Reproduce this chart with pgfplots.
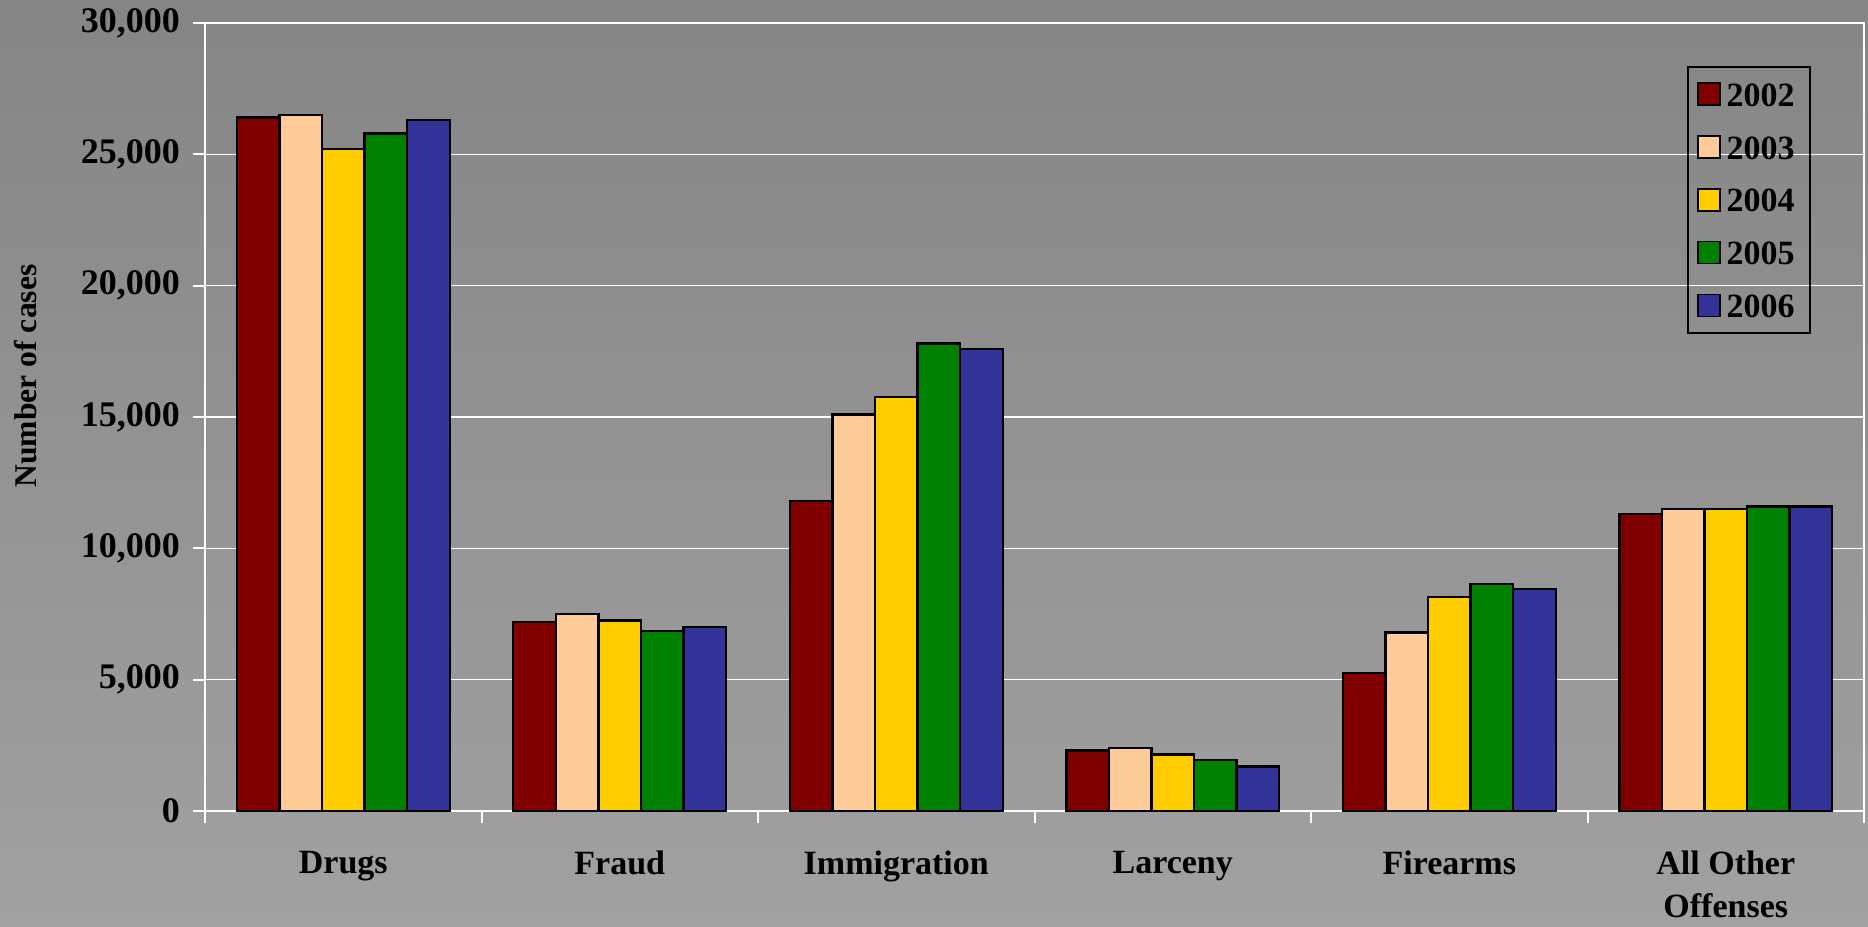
\documentclass[border=0pt]{standalone}
\usepackage{fontspec}
\setmainfont{Liberation Serif}
\usepackage{pgfplots}
\pgfplotsset{compat=1.18}
\definecolor{c2002}{HTML}{800000}
\definecolor{c2003}{HTML}{FFCC99}
\definecolor{c2004}{HTML}{FFCC00}
\definecolor{c2005}{HTML}{008000}
\definecolor{c2006}{HTML}{333399}
\definecolor{bgtop}{HTML}{858585}
\definecolor{bgbot}{HTML}{A1A1A1}
\newcommand{\lblfont}{\fontsize{17}{21.5}\selectfont\bfseries}
\newcommand{\ytfont}{\fontsize{18}{22}\selectfont\bfseries}
\begin{document}
\begin{tikzpicture}
\useasboundingbox (0,0) rectangle (934pt,463pt);
\shade[top color=bgtop, bottom color=bgbot] (0,0) rectangle (934pt,463pt);
\begin{axis}[
  at={(102.5pt,57.5pt)}, anchor=south west,
  scale only axis, width=829.5pt, height=394pt,
  ybar=0pt, bar width=0.154,
  xmin=-0.5, xmax=5.5, ymin=0, ymax=30000,
  xtick={-0.5,0.5,...,5.5}, xticklabels={},
  extra x ticks={0,1,2,3,4,5},
  extra x tick labels={Drugs,Fraud,Immigration,Larceny,Firearms,{All Other\\Offenses}},
  extra x tick style={major tick length=0pt, grid=none},
  ytick={0,5000,...,30000},
  tick pos=left,
  ymajorgrids, grid style={white, line width=0.8pt},
  axis line style={white, line width=1pt},
  tick style={white, line width=1pt},
  tick align=outside, major tick length=6pt,
  x tick label style={font=\lblfont, align=center, anchor=north, yshift=-16.5pt},
  y tick label style={font=\ytfont, xshift=-3pt},
  /pgf/number format/assume math mode=true,
  /pgf/number format/1000 sep={,},
  scaled y ticks=false,
  ylabel={Number of cases},
  ylabel style={font=\fontsize{15.8}{18}\selectfont\bfseries, at={(axis description cs:-0.108,0.552)}, anchor=center},
  every axis plot/.append style={draw=black, line width=1.2pt},
  legend style={at={(0.968,0.9454)}, anchor=north east, draw=black, line width=1pt, fill=none,
    font=\lblfont, inner sep=4.6pt, row sep=8.4pt,
    nodes={text height=12pt, text depth=0pt, inner sep=3pt}},
  legend cell align=left,
  legend image code/.code={\draw[#1, line width=0.8pt] (0pt,-5.5pt) rectangle (11pt,5.5pt);},
]
\addplot[fill=c2002] coordinates {(0,26400) (1,7200) (2,11800) (3,2300) (4,5250) (5,11300)};
\addplot[fill=c2003] coordinates {(0,26500) (1,7500) (2,15100) (3,2400) (4,6800) (5,11500)};
\addplot[fill=c2004] coordinates {(0,25200) (1,7250) (2,15750) (3,2150) (4,8150) (5,11500)};
\addplot[fill=c2005] coordinates {(0,25800) (1,6850) (2,17800) (3,1950) (4,8650) (5,11600)};
\addplot[fill=c2006] coordinates {(0,26300) (1,7000) (2,17600) (3,1700) (4,8450) (5,11600)};
\legend{2002,2003,2004,2005,2006}
\end{axis}
\end{tikzpicture}
\end{document}
